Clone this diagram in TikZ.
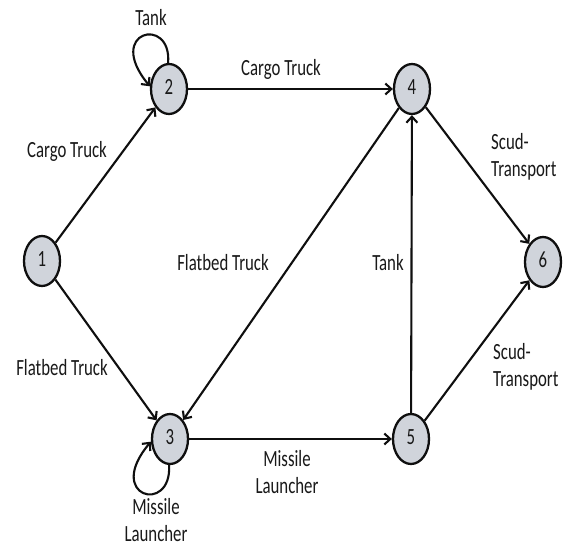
\documentclass[tikz,border=0pt]{standalone}
\usepackage{fontspec}
\setmainfont{Carlito}
\usepackage{graphicx}
\usetikzlibrary{arrows.meta,shapes.geometric}
\definecolor{nodefill}{RGB}{208,212,219}
\definecolor{inkc}{RGB}{15,15,15}
\definecolor{txtc}{RGB}{25,25,25}
\newcommand{\stx}[2][c]{\scalebox{1}[1.38]{\fontsize{16.8}{19.6}\selectfont\begin{tabular}{@{}#1@{}}#2\end{tabular}}}
\begin{document}
\begin{tikzpicture}[x=1pt,y=1pt,
  vtx/.style={ellipse,draw=inkc,fill=nodefill,line width=2.3pt,minimum width=36pt,minimum height=50pt,inner sep=0pt,text=txtc},
  lbl/.style={inner sep=0pt,text=txtc},
  edge/.style={draw=inkc,line width=2.1pt,-{Straight Barb[length=6pt,width=11pt,line width=2.1pt]}}]
\useasboundingbox (0,0) rectangle (565,547);
\fill[white] (0,0) rectangle (565,547);
\node[vtx] (n1) at (42,286) {\stx{1}};
\node[vtx] (n2) at (169,458) {\stx{2}};
\node[vtx] (n3) at (170,108) {\stx{3}};
\node[vtx] (n4) at (412,458) {\stx{4}};
\node[vtx] (n5) at (411,108) {\stx{5}};
\node[vtx] (n6) at (543,285) {\stx{6}};
\draw[edge] (n1) -- (n2);
\draw[edge] (n1) -- (n3);
\draw[edge] (n2) -- (n4);
\draw[edge] (n3) -- (n5);
\draw[edge] (n4) -- (n3);
\draw[edge] (n5) -- (n4);
\draw[edge] (n4) -- (n6);
\draw[edge] (n5) -- (n6);
\draw[edge] (n2.92) .. controls (172,532) and (104,516) .. (n2.172);
\draw[edge] (n3.268) .. controls (172,32) and (104,50) .. (n3.188);
\node[lbl] (t1) at (151,527) {\stx{Tank}};
\node[lbl] (t2) at (281,477) {\stx{Cargo Truck}};
\node[lbl] (t3) at (67,395) {\stx{Cargo Truck}};
\node[lbl] (t4) at (223,282) {\stx{Flatbed Truck}};
\node[lbl] (t5) at (62,177) {\stx{Flatbed Truck}};
\node[lbl] (t6) at (287,72) {\stx{Missile\\Launcher}};
\node[lbl] (t7) at (156,24) {\stx{Missile\\Launcher}};
\node[lbl] (t8) at (388,282) {\stx{Tank}};
\node[lbl,anchor=west] (t9) at (491,389) {\stx[l]{Scud-\\Transport}};
\node[lbl,anchor=west] (t10) at (493,179) {\stx[l]{Scud-\\Transport}};
\end{tikzpicture}
\end{document}
